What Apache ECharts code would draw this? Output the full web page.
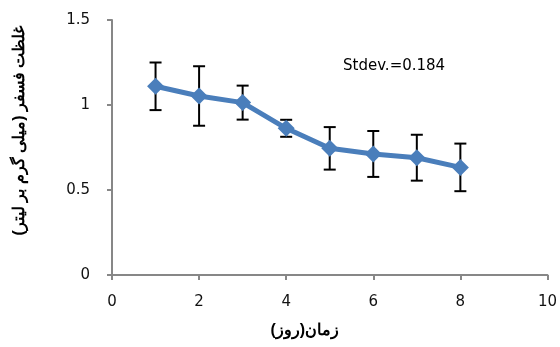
<!DOCTYPE html>
<html>
<head>
<meta charset="utf-8">
<script src="https://cdn.jsdelivr.net/npm/echarts@6/dist/echarts.min.js"></script>
<style>
  html, body { margin: 0; padding: 0; background: #fff; }
  #chart { width: 560px; height: 347px; }
</style>
</head>
<body>
<div id="chart"></div>
<script>
// روزها و مقادیر
const days = [1, 2, 3, 4, 5, 6, 7, 8]
const values = [1.11, 1.053, 1.014, 0.863, 0.745, 0.712, 0.69, 0.633]
const errors = [0.14, 0.175, 0.1, 0.05, 0.125, 0.135, 0.135, 0.14]
const xTicks = [0, 2, 4, 6, 8, 10]
const yTicks = [0, 0.5, 1, 1.5]

const myChart = echarts.init(document.getElementById('chart'))

const lineData = days.map((d, i) => [d, values[i]])
const errData = days.map((d, i) => [d, values[i] - errors[i], values[i] + errors[i]])

const font = 'DejaVu Sans, sans-serif'
const nameFont = 'Liberation Sans, Arial, sans-serif'
const rlm = '\u200F' // برای درست نمایش دادن پرانتزها

const options = {
  animation: false,
  grid: {
    left: 112,
    right: 8,
    top: 20,
    bottom: 72
  },
  xAxis: {
    type: 'value',
    min: xTicks[0],
    max: xTicks[xTicks.length - 1],
    interval: 2,
    name: rlm + 'زمان(روز)' + rlm,
    nameLocation: 'middle',
    nameGap: 48,
    nameTextStyle: { fontFamily: nameFont, fontSize: 16, fontWeight: 'bold', color: '#000', padding: [0, 50, 0, 0] },
    axisLine: { lineStyle: { color: '#878787', width: 2 } },
    axisTick: { length: 5, lineStyle: { color: '#878787', width: 2 } },
    axisLabel: { fontFamily: font, fontSize: 15, color: '#111', margin: 20 },
    splitLine: { show: false }
  },
  yAxis: {
    type: 'value',
    min: yTicks[0],
    max: yTicks[yTicks.length - 1],
    interval: 0.5,
    name: rlm + 'غلظت فسفر (میلی گرم بر لیتر)' + rlm,
    nameLocation: 'middle',
    nameGap: 84,
    nameTextStyle: { fontFamily: nameFont, fontSize: 16, fontWeight: 'bold', color: '#000', padding: [0, 0, 0, 34] },
    axisLine: { show: true, lineStyle: { color: '#878787', width: 2 } },
    axisTick: { show: true, length: 5, lineStyle: { color: '#878787', width: 2 } },
    axisLabel: { fontFamily: font, fontSize: 15, color: '#111', margin: 22 },
    splitLine: { show: false }
  },
  graphic: [{
    type: 'text',
    left: 343,
    top: 59,
    style: { text: 'Stdev.=0.184', font: '15px ' + font, fill: '#000' }
  }],
  series: [
    {
      // خطای استاندارد
      type: 'custom',
      z: 1,
      data: errData,
      renderItem: (params, api) => {
        const lo = api.coord([api.value(0), api.value(1)])
        const hi = api.coord([api.value(0), api.value(2)])
        const w = 6
        const style = { stroke: '#000', lineWidth: 2 }
        return {
          type: 'group',
          children: [
            { type: 'line', shape: { x1: lo[0], y1: lo[1], x2: hi[0], y2: hi[1] }, style },
            { type: 'line', shape: { x1: lo[0] - w, y1: lo[1], x2: lo[0] + w, y2: lo[1] }, style },
            { type: 'line', shape: { x1: hi[0] - w, y1: hi[1], x2: hi[0] + w, y2: hi[1] }, style }
          ]
        }
      }
    },
    {
      type: 'line',
      z: 3,
      data: lineData,
      symbol: 'diamond',
      symbolSize: 17,
      lineStyle: { color: '#4a7ebb', width: 5 },
      itemStyle: { color: '#4a7ebb' }
    }
  ]
}
myChart.setOption(options)
</script>
</body>
</html>
